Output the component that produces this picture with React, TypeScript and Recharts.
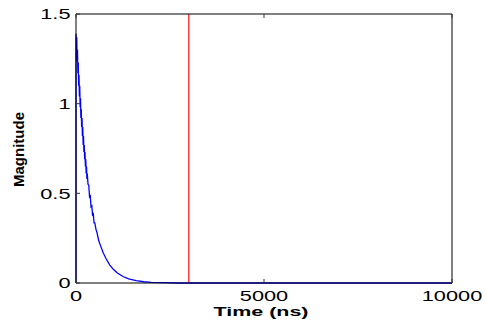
import React from 'react';
import { LineChart, Line, XAxis, YAxis, ReferenceLine } from 'recharts';

// time axis (ns) and magnitude of the decaying response
const timeNs = [
  0, 0, 10, 20, 30, 40, 50, 60, 70, 80, 90, 100, 110, 120, 130, 140, 150, 160, 170, 180, 190, 200,
  210, 220, 230, 240, 250, 260, 270, 280, 290, 300, 320, 340, 360, 380, 400, 420, 440, 460, 480,
  500, 530, 560, 600, 650, 720, 800, 900, 1000, 1100, 1250, 1400, 1600, 1800, 2000, 2300, 2700, 10000,
];
const magnitude = [
  0, 1.39, 1.31, 1.37, 1.24, 1.3, 1.17, 1.23, 1.1, 1.16, 1.04, 1.1, 0.98, 1.03, 0.92, 0.97, 0.87,
  0.92, 0.82, 0.87, 0.77, 0.82, 0.73, 0.77, 0.69, 0.73, 0.65, 0.69, 0.61, 0.65, 0.58, 0.61, 0.55,
  0.545, 0.48, 0.485, 0.425, 0.43, 0.38, 0.385, 0.335, 0.335, 0.3, 0.28, 0.24, 0.21, 0.17, 0.135, 0.1,
  0.075, 0.056, 0.036, 0.023, 0.013, 0.007, 0.004, 0.002, 0, 0,
];
const markerTime = 3000;

const xTicks = [0, 5000, 10000];
const yTicks = [0, 0.5, 1, 1.5];

const data = timeNs.map((t, i) => ({ t, v: magnitude[i] }));

const FONT = '"Liberation Sans", Arial, sans-serif';
const TICK_COLOR = '#333';

const BottomTick = (props: any) => {
  const { x, y, payload } = props;
  return (
    <g>
      <line x1={x} y1={y} x2={x} y2={y - 4} stroke={TICK_COLOR} />
      <text
        transform={`translate(${x},${y + 18}) scale(1.45,1)`}
        textAnchor="middle"
        fontFamily={FONT}
        fontSize={15}
        fill="#000"
      >
        {payload.value}
      </text>
    </g>
  );
};

const TopTick = (props: any) => {
  const { x, y } = props;
  return <line x1={x} y1={y} x2={x} y2={y + 4} stroke={TICK_COLOR} />;
};

const LeftTick = (props: any) => {
  const { x, y, payload } = props;
  return (
    <g>
      <line x1={x} y1={y} x2={x + 4} y2={y} stroke={TICK_COLOR} />
      <text
        transform={`translate(${x - 5.5},${y + 5.4}) scale(1.45,1)`}
        textAnchor="end"
        fontFamily={FONT}
        fontSize={15}
        fill="#000"
      >
        {payload.value}
      </text>
    </g>
  );
};

const RightTick = (props: any) => {
  const { x, y } = props;
  return <line x1={x} y1={y} x2={x - 5} y2={y} stroke={TICK_COLOR} />;
};

export default function App() {
  return (
    <div style={{ position: 'absolute', left: 0, top: 0, width: 485, height: 323, background: '#fff' }}>
      <LineChart width={485} height={323} data={data} margin={{ top: 13, right: 32, bottom: 0, left: 0 }}>
        <XAxis
          xAxisId="b"
          dataKey="t"
          type="number"
          domain={[0, 10000]}
          ticks={xTicks}
          height={40}
          tickSize={0}
          tickMargin={0}
          tick={<BottomTick />}
          axisLine={{ stroke: '#000' }}
        />
        <XAxis
          xAxisId="t"
          orientation="top"
          dataKey="t"
          type="number"
          domain={[0, 10000]}
          ticks={xTicks}
          height={1}
          tickSize={0}
          tickMargin={0}
          tick={<TopTick />}
          axisLine={{ stroke: '#000' }}
        />
        <YAxis
          yAxisId="l"
          type="number"
          domain={[0, 1.5]}
          ticks={yTicks}
          width={76}
          tickSize={0}
          tickMargin={0}
          tick={<LeftTick />}
          axisLine={{ stroke: '#000' }}
        />
        <YAxis
          yAxisId="r"
          orientation="right"
          type="number"
          domain={[0, 1.5]}
          ticks={yTicks}
          width={1}
          tickSize={0}
          tickMargin={0}
          tick={<RightTick />}
          axisLine={{ stroke: '#000' }}
        />
        <ReferenceLine xAxisId="b" yAxisId="l" x={markerTime} stroke="#ff3b3b" strokeWidth={1.5} />
        <Line
          xAxisId="b"
          yAxisId="l"
          type="linear"
          dataKey="v"
          stroke="#0000ff"
          strokeWidth={1.3}
          dot={false}
          isAnimationActive={false}
        />
      </LineChart>
      <svg width={485} height={323} style={{ position: 'absolute', left: 0, top: 0, pointerEvents: 'none' }}>
        <text
          x={261}
          y={316}
          textAnchor="middle"
          fontFamily={FONT}
          fontWeight="bold"
          fontSize={13}
          textLength={95}
          lengthAdjust="spacingAndGlyphs"
        >
          Time (ns)
        </text>
        <text
          x={24}
          y={149.5}
          transform="rotate(-90, 24, 149.5)"
          textAnchor="middle"
          fontFamily={FONT}
          fontWeight="bold"
          fontSize={14}
          textLength={75}
          lengthAdjust="spacingAndGlyphs"
        >
          Magnitude
        </text>
      </svg>
    </div>
  );
}
